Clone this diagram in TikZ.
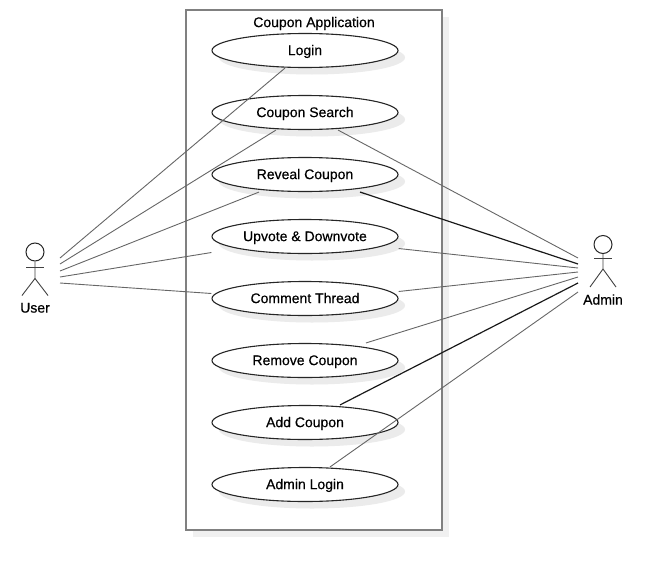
\documentclass[tikz,border=0pt]{standalone}
\usepackage{fontspec}
\setmainfont[FakeBold=0.45]{Liberation Sans}
\usetikzlibrary{shapes.geometric,shadows,calc}
\tikzset{
  usecase/.style={ellipse, draw=black!85, line width=1.1pt, fill=white, minimum width=186pt, minimum height=34pt, inner sep=0pt,
    text height=9.2pt, text depth=0pt,
    drop shadow={shadow xshift=7pt, shadow yshift=-7pt, fill=black!8, opacity=1}},
  sysbox/.style={rectangle, draw=black!50, line width=2.2pt, fill=white, minimum width=256pt, minimum height=520pt, inner sep=0pt,
    drop shadow={shadow xshift=7pt, shadow yshift=-7pt, fill=black!6, opacity=1}},
  caption/.style={text height=9.2pt, text depth=0pt, inner sep=0pt},
  actorhead/.style={circle, draw=black!85, line width=1pt, minimum size=18pt, inner sep=0pt},
  assoc/.style={draw=black!60, line width=.9pt},
  assocdark/.style={draw=black!90, line width=1.2pt},
  limb/.style={draw=black!75, line width=.9pt}
}
\begin{document}
\begin{tikzpicture}[x=1pt, y=-1pt, font=\fontsize{14}{16}\selectfont]
\useasboundingbox (0,0) rectangle (668,570);
% system boundary
\node [sysbox] (app) at (314,270) {};
\node [caption] (apptitle) at (314,22.5) {Coupon Application};
% use cases
\node [usecase] (login) at (305,50.5) {Login};
\node [usecase] (search) at (305,112.5) {Coupon Search};
\node [usecase] (reveal) at (305,174.5) {Reveal Coupon};
\node [usecase] (upvote) at (305,236.5) {Upvote \& Downvote};
\node [usecase] (comment) at (305,298.5) {Comment Thread};
\node [usecase] (remove) at (305,360.5) {Remove Coupon};
\node [usecase] (addc) at (305,422.5) {Add Coupon};
\node [usecase] (adminl) at (305,484.5) {Admin Login};
% user
\node [actorhead] (userhead) at (35,252) {};
\draw [limb] (userhead.south) -- ++(0,17) coordinate (userhip) -- ++(-13,17);
\draw [limb] (userhip) -- ++(13,17);
\draw [limb] ($(userhead.south)+(-9,6)$) -- ++(18,0);
\node [caption] (userlabel) at (35,308) {User};
% admin
\node [actorhead] (adminhead) at (603,244.5) {};
\draw [limb] (adminhead.south) -- ++(0,15) coordinate (adminhip) -- ++(-13,18);
\draw [limb] (adminhip) -- ++(13,18);
\draw [limb] ($(adminhead.south)+(-9,4.5)$) -- ++(18,0);
\node [caption] (adminlabel) at (603,300) {Admin};
% free ends next to the actors
\coordinate (u1) at (60,258);
\coordinate (u2) at (60,264);
\coordinate (u3) at (60,271);
\coordinate (u4) at (60,277);
\coordinate (u5) at (60,283);
\coordinate (a1) at (578,258);
\coordinate (a2) at (578,264);
\coordinate (a3) at (578,268);
\coordinate (a4) at (578,272);
\coordinate (a5) at (578,277);
\coordinate (a6) at (578,283);
\coordinate (a7) at (578,292);
% user side
\draw [assoc] (u1) -- ([xshift=-20pt]login.south);
\draw [assoc] (u2) -- ([xshift=-29pt]search.south);
\draw [assoc] (u3) -- ([xshift=-46pt]reveal.south);
\draw [assoc] (u4) -- ([yshift=-16pt]upvote.west);
\draw [assoc] (u5) -- ([yshift=5pt]comment.west);
% admin side
\draw [assoc] (a1) -- ([xshift=33pt]search.south);
\draw [assocdark] (a2) -- ([xshift=55pt]reveal.south);
\draw [assoc] (a3) -- ([yshift=-12pt]upvote.east);
\draw [assoc] (a4) -- ([yshift=7pt]comment.east);
\draw [assoc] (a5) -- ([xshift=61pt]remove.north);
\draw [assocdark] (a6) -- ([xshift=35pt]addc.north);
\draw [assoc] (a7) -- ([xshift=25pt]adminl.north);
\end{tikzpicture}
\end{document}
